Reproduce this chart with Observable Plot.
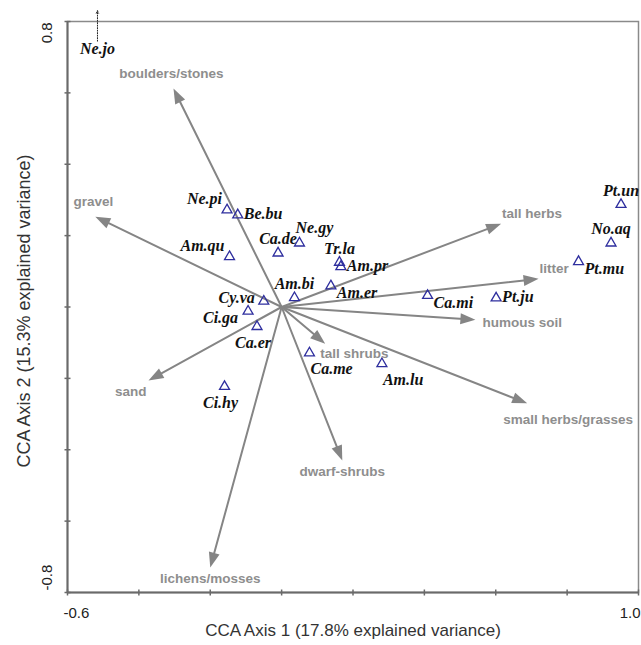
<!DOCTYPE html>
<html>
<head>
<meta charset="utf-8">
<script src="https://cdn.jsdelivr.net/npm/d3@7"></script>
<script src="https://cdn.jsdelivr.net/npm/@observablehq/plot@0.6"></script>
<style>
  body { margin: 0; background: #fff; }
  #chart svg { display: block; }
</style>
</head>
<body>
<div id="chart"></div>
<script>
// ---------- data ----------
const species = ["Ne.pi","Be.bu","Am.qu","Ca.de","Ne.gy","Tr.la","Am.pr","Am.bi","Am.er","Cy.va",
                 "Ci.ga","Ca.er","Ca.me","Am.lu","Ci.hy","Ca.mi","Pt.ju","Pt.mu","No.aq","Pt.un"];
const speciesAxis1 = [-0.153,-0.123,-0.146,-0.010,0.050,0.162,0.166,0.036,0.138,-0.050,
                      -0.094,-0.069,0.078,0.281,-0.160,0.409,0.601,0.832,0.923,0.951];
const speciesAxis2 = [0.272,0.258,0.141,0.151,0.179,0.125,0.113,0.026,0.059,0.016,
                      -0.012,-0.055,-0.129,-0.159,-0.223,0.032,0.025,0.127,0.179,0.287];
const speciesLabelSide = ["nw","e","nw","n","ne","n","e","n","es","w",
                          "sw","s","se","se","s","es","e","es","n","n"];

// species lying beyond the top of the plot (shown by a dotted arrow)
const offSpecies = ["Ne.jo"];
const offAxis1 = [-0.516];
const offAxis2From = [0.745];
const offAxis2To = [0.83];

const envVars = ["boulders/stones","gravel","tall herbs","litter","humous soil",
                 "small herbs/grasses","dwarf-shrubs","tall shrubs","sand","lichens/mosses"];
const envAxis1 = [-0.303,-0.522,0.615,0.720,0.543,0.688,0.170,0.122,-0.373,-0.200];
const envAxis2 = [0.612,0.253,0.233,0.079,-0.036,-0.270,-0.430,-0.103,-0.206,-0.730];
const envLabelSide = ["n","n","ne","ne","e","sse","s","se","sw","s"];

const xTicks = [-0.6,-0.4,-0.2,0,0.2,0.4,0.6,0.8,1.0];
const yTicks = [-0.8,-0.6,-0.4,-0.2,0,0.2,0.4,0.6,0.8];
const xTickLabels = [{v: -0.6, label: "-0.6"}, {v: 1.0, label: "1.0"}];
const yTickLabels = [{v: 0.8, label: "0.8"}, {v: -0.8, label: "-0.8"}];
const xTitle = "CCA Axis 1 (17.8% explained variance)";
const yTitle = "CCA Axis 2 (15.3% explained variance)";

// ---------- tables ----------
const spp = species.map((name, i) => ({name, x: speciesAxis1[i], y: speciesAxis2[i], side: speciesLabelSide[i]}));
const off = offSpecies.map((name, i) => ({name, x: offAxis1[i], y1: offAxis2From[i], y2: offAxis2To[i]}));
const env = envVars.map((name, i) => ({name, x: envAxis1[i], y: envAxis2[i], side: envLabelSide[i]}));

// ---------- styles ----------
const arrowGrey = "#858585";
const envLabelGrey = "#8e8e8e";
const triBlue = "#2e2e9e";
const serif = "'Liberation Serif', 'Times New Roman', serif";
const sans = "'Liberation Sans', Arial, sans-serif";

const sppSides = {
  n:  {textAnchor: "middle", dx: 0,  dy: -14},
  s:  {textAnchor: "middle", dx: -4, dy: 16},
  e:  {textAnchor: "start",  dx: 6,  dy: -1},
  es: {textAnchor: "start",  dx: 6,  dy: 7},
  w:  {textAnchor: "end",    dx: -9, dy: -3},
  nw: {textAnchor: "end",    dx: -5, dy: -11},
  ne: {textAnchor: "start",  dx: -4, dy: -15},
  se: {textAnchor: "start",  dx: 1,  dy: 16},
  sw: {textAnchor: "end",    dx: -10, dy: 7}
};
const envSides = {
  n:   {textAnchor: "middle", dx: -2, dy: -15},
  ne:  {textAnchor: "start",  dx: 1,  dy: -10},
  e:   {textAnchor: "start",  dx: 7,  dy: 3},
  s:   {textAnchor: "middle", dx: 0,  dy: 11},
  se:  {textAnchor: "start",  dx: -5, dy: 10},
  sse: {textAnchor: "start",  dx: -24, dy: 16},
  sw:  {textAnchor: "end",    dx: -2, dy: 11}
};

// filled arrowhead with its tip at the origin, pointing up
const headSymbol = {draw(ctx) { ctx.moveTo(0, 0); ctx.lineTo(-5.5, 15); ctx.lineTo(5.5, 15); ctx.closePath(); }};
const vTick = {draw(ctx) { ctx.moveTo(0, -3); ctx.lineTo(0, 3); }};
const hTick = {draw(ctx) { ctx.moveTo(-3, 0); ctx.lineTo(3, 0); }};

const marks = [
  Plot.frame({stroke: "#8a8a8a", strokeWidth: 1.5}),
  Plot.ruleX([-0.6], {stroke: "#6a6a6a", strokeWidth: 2}),
  Plot.ruleY([-0.8], {stroke: "#6a6a6a", strokeWidth: 2}),
  Plot.dot(xTicks, {x: d => d, y: -0.8, symbol: vTick, fill: "none", stroke: "#6a6a6a", strokeWidth: 1.5}),
  Plot.dot(yTicks, {x: -0.6, y: d => d, symbol: hTick, fill: "none", stroke: "#6a6a6a", strokeWidth: 1.5}),
  // tick labels
  Plot.text(xTickLabels.filter(d => d.v < 0), {x: "v", y: -0.8, text: "label", textAnchor: "start", dx: -4, dy: 21, fontSize: 15, fontFamily: sans, fill: "#222"}),
  Plot.text(xTickLabels.filter(d => d.v > 0), {x: "v", y: -0.8, text: "label", textAnchor: "end", dx: 2, dy: 21, fontSize: 15, fontFamily: sans, fill: "#222"}),
  Plot.text(yTickLabels.filter(d => d.v > 0), {x: -0.6, y: "v", text: "label", rotate: -90, textAnchor: "end", dx: -20, dy: 1, fontSize: 15, fontFamily: sans, fill: "#222"}),
  Plot.text(yTickLabels.filter(d => d.v < 0), {x: -0.6, y: "v", text: "label", rotate: -90, textAnchor: "start", dx: -20, dy: -2, fontSize: 15, fontFamily: sans, fill: "#222"}),
  // axis titles
  Plot.text([xTitle], {frameAnchor: "bottom", textAnchor: "middle", dy: 43, fontSize: 17, fontFamily: sans, fill: "#333"}),
  Plot.text([yTitle], {frameAnchor: "left", textAnchor: "middle", dx: -43, dy: 4, rotate: -90, fontSize: 18, fontFamily: sans, fill: "#333"}),
  // environmental arrows
  Plot.arrow(env, {x1: 0, y1: 0, x2: "x", y2: "y", bend: 0, headLength: 0, insetEnd: 8, stroke: arrowGrey, strokeWidth: 2}),
  Plot.dot(env, {x: "x", y: "y", symbol: headSymbol, rotate: d => Math.atan2(d.x, d.y) * 180 / Math.PI, fill: arrowGrey, stroke: "none"}),
  ...Object.entries(envSides).map(([side, o]) =>
    Plot.text(env.filter(d => d.side === side), {x: "x", y: "y", text: "name", ...o, fontSize: 13.5, fontWeight: "bold", fontFamily: sans, fill: envLabelGrey})
  ),
  // off-chart species
  Plot.arrow(off, {x1: "x", y1: "y1", x2: "x", y2: "y2", bend: 0, headLength: 4, headAngle: 50, stroke: "#222", strokeWidth: 1, strokeDasharray: "1,1.5"}),
  Plot.text(off, {x: "x", y: "y1", text: "name", dy: 8, fontSize: 16, fontStyle: "italic", fontWeight: "bold", fontFamily: serif, fill: "#111"}),
  // species
  Plot.dot(spp, {x: "x", y: "y", symbol: "triangle", r: 3.7, fill: "none", stroke: triBlue, strokeWidth: 1.3}),
  ...Object.entries(sppSides).map(([side, o]) =>
    Plot.text(spp.filter(d => d.side === side), {x: "x", y: "y", text: "name", ...o, fontSize: 16, fontStyle: "italic", fontWeight: "bold", fontFamily: serif, fill: "#111"})
  )
];

const chart = Plot.plot({
  width: 641,
  height: 645,
  marginLeft: 67,
  marginRight: 3,
  marginTop: 21,
  marginBottom: 53,
  style: {fontFamily: sans, background: "#fff", overflow: "visible"},
  x: {domain: [-0.6, 1.0], axis: null},
  y: {domain: [-0.8, 0.8], axis: null},
  marks
});
document.getElementById("chart").appendChild(chart);
</script>
</body>
</html>
